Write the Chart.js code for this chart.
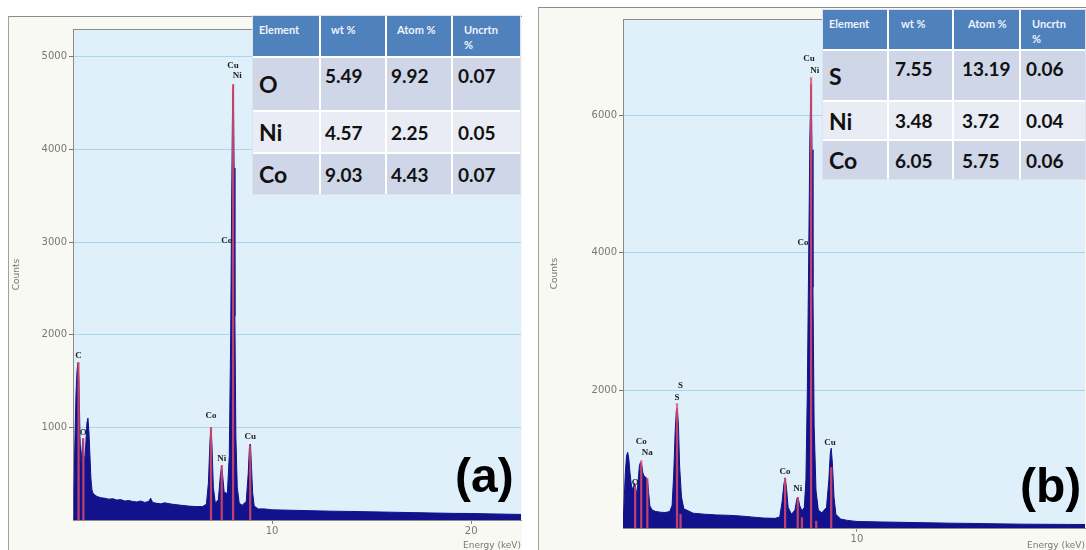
<!DOCTYPE html>
<html>
<head>
<meta charset="utf-8">
<script src="https://cdn.jsdelivr.net/npm/chart.js@4.4.0/dist/chart.umd.min.js"></script>
<style>
body { margin: 0; width: 1086px; height: 550px; background: #fff; position: relative; overflow: hidden; font-family: Lato, sans-serif; }
.frame { position: absolute; background: #f9f9f3; border-left: 1px solid #a0a0a0; border-top: 1px solid #8c8c8c; box-sizing: border-box; }
.frame canvas { position: absolute; left: 0; top: 0; }
.tbl { position: absolute; display: grid; gap: 2px; background: #fff; border: 1px solid #dde3ee; }
.tbl div { display: flex; align-items: center; box-sizing: border-box; font-weight: 700; color: #111; }
.tbl .h { background: #4f81bd; color: #eef3fa; font-size: 11px; align-items: flex-start; padding-top: 6px; font-weight: 700; line-height: 15px; }
.tbl .r1 { background: #cfd6e8; }
.tbl .r2 { background: #e9ecf4; }
.tbl .el { font-size: 23px; padding-left: 6px; }
.tbl .v { font-size: 19px; padding-left: 5px; }
.tbl .top { align-items: flex-start; padding-top: 6px; }
.tag { position: absolute; font: bold 48px "Liberation Sans", Arial, sans-serif; line-height: 48px; color: #000; }
</style>
</head>
<body>

<div class="frame" style="left:8px;top:16px;width:514px;height:534px"><canvas id="chartA" width="514" height="534"></canvas></div>
<div class="frame" style="left:538px;top:7px;width:548px;height:543px"><canvas id="chartB" width="548" height="543"></canvas></div>

<div class="tbl" id="tblA" style="left:252px;top:15px;grid-template-columns:66px 64px 64px 67px;grid-template-rows:40px 52px 40px 40px"></div>
<div class="tbl" id="tblB" style="left:822px;top:9px;grid-template-columns:64px 63px 65px 64px;grid-template-rows:39px 49px 37px 38px"></div>

<div class="tag" style="left:455px;top:452px">(a)</div>
<div class="tag" style="left:1020px;top:462px">(b)</div>

<script>
// ---- spectrum (a) ----
const aEnergy = [0, 0.05, 0.1, 0.15, 0.2, 0.25, 0.3, 0.35, 0.4, 0.45, 0.5, 0.55, 0.6, 0.65, 0.7, 0.75, 0.8, 0.85, 0.9, 0.95,
  1.0, 1.1, 1.2, 1.4, 1.6, 1.8, 2.0, 2.2, 2.4, 2.6, 2.8, 3.0, 3.2, 3.4, 3.6, 3.8, 3.9, 4.0, 4.2, 4.4, 4.6, 5.0, 5.4, 5.8, 6.2, 6.5,
  6.7, 6.8, 6.88, 6.93, 6.98, 7.05, 7.15, 7.3, 7.4, 7.47, 7.53, 7.6, 7.65, 7.75, 7.85, 7.92, 7.97, 8.02, 8.05, 8.09, 8.13, 8.18,
  8.25, 8.35, 8.5, 8.7, 8.8, 8.86, 8.9, 8.95, 9.02, 9.1, 9.3, 9.6, 10, 11, 12, 13, 14, 15, 16, 17, 18, 19, 20, 21, 22, 22.5];
const aCounts = [0, 300, 900, 1350, 1600, 1700, 1500, 900, 600, 750, 880, 700, 650, 850, 1050, 1100, 950, 700, 450, 330,
  290, 270, 255, 240, 235, 225, 230, 215, 220, 205, 210, 200, 195, 205, 190, 200, 235, 190, 180, 175, 185, 170, 160, 150, 145, 145,
  170, 400, 850, 1000, 800, 350, 180, 220, 480, 590, 450, 280, 300, 280, 700, 2000, 3500, 4600, 4700, 3800, 2200, 900,
  350, 180, 160, 200, 500, 780, 820, 650, 300, 150, 120, 120, 110, 105, 100, 95, 92, 88, 84, 80, 76, 72, 70, 66, 62, 60];
const aMarkEnergy = [0.28, 0.52, 6.93, 7.47, 8.04, 8.9];
const aMarkCounts = [1700, 880, 1000, 590, 4700, 800];
const aLabelText = ['C', 'O', 'Co', 'Ni', 'Co', 'Cu', 'Ni', 'Cu'];
const aLabelEnergy = [0.28, 0.52, 6.93, 7.47, 7.72, 8.04, 8.25, 8.9];
const aLabelCounts = [1730, 895, 1080, 615, 2970, 4855, 4750, 850];
const aYTicks = [1000, 2000, 3000, 4000, 5000];
const aXTicks = [10, 20];

// ---- spectrum (b) ----
const bEnergy = [0, 0.05, 0.1, 0.15, 0.2, 0.25, 0.3, 0.35, 0.4, 0.45, 0.5, 0.55, 0.6, 0.65, 0.7, 0.75, 0.8, 0.85, 0.9, 0.95,
  1.0, 1.05, 1.1, 1.15, 1.25, 1.4, 1.6, 1.8, 2.0, 2.1, 2.17, 2.23, 2.28, 2.32, 2.37, 2.42, 2.5, 2.6, 3.0, 3.5, 4.0, 4.5, 5.0, 5.5,
  6.0, 6.5, 6.7, 6.8, 6.88, 6.93, 6.99, 7.06, 7.2, 7.35, 7.43, 7.48, 7.55, 7.65, 7.75, 7.82, 7.88, 7.94, 7.99, 8.04, 8.08, 8.12,
  8.17, 8.25, 8.35, 8.5, 8.7, 8.8, 8.86, 8.9, 8.95, 9.02, 9.1, 9.3, 9.6, 10, 11, 12, 13, 14, 15, 16, 17, 18, 19, 20];
const bCounts = [0, 400, 800, 1050, 1100, 1000, 800, 650, 560, 600, 650, 560, 500, 700, 900, 960, 920, 800, 760, 740,
  730, 700, 500, 320, 260, 240, 230, 225, 240, 330, 800, 1400, 1700, 1740, 1500, 900, 450, 280, 215, 200, 190, 185, 175, 160,
  145, 140, 160, 380, 640, 730, 580, 300, 200, 260, 420, 450, 330, 250, 300, 700, 2000, 4000, 5700, 6450, 5500, 3500,
  1500, 550, 260, 220, 300, 700, 1080, 1160, 950, 450, 200, 130, 110, 95, 88, 82, 76, 70, 66, 60, 56, 54, 52, 50];
const bMarkEnergy = [0.52, 0.78, 1.04, 2.31, 2.46, 6.93, 7.47, 7.65, 8.04, 8.26, 8.9];
const bMarkCounts = [600, 980, 720, 1810, 200, 720, 445, 150, 6550, 100, 880];
const bLabelText = ['O', 'Co', 'Na', 'S', 'S', 'Co', 'Ni', 'Co', 'Cu', 'Ni', 'Cu'];
const bLabelEnergy = [0.52, 0.78, 1.04, 2.31, 2.46, 6.93, 7.47, 7.7, 7.95, 8.2, 8.85];
const bLabelCounts = [600, 1185, 1025, 1825, 2000, 750, 500, 4080, 6756, 6580, 1170];
const bYTicks = [2000, 4000, 6000];
const bXTicks = [10];

// ---- tables ----
const tblHeader = ['Element', 'wt %', 'Atom %', 'Uncrtn<br>%'];
const aElements = ['O', 'Ni', 'Co'];
const aWt = ['5.49', '4.57', '9.03'];
const aAtom = ['9.92', '2.25', '4.43'];
const aUnc = ['0.07', '0.05', '0.07'];
const bElements = ['S', 'Ni', 'Co'];
const bWt = ['7.55', '3.48', '6.05'];
const bAtom = ['13.19', '3.72', '5.75'];
const bUnc = ['0.06', '0.04', '0.06'];

function fillTable(id, els, wt, atom, unc, pads) {
    let t = document.getElementById(id);
    let html = '';
    tblHeader.forEach((h, i) => {
        html += '<div class="h" style="padding-left:' + (i == 0 ? 6 : pads[i] + 6) + 'px">' + h + '</div>';
    });
    els.forEach((e, r) => {
        let cls = r == 1 ? 'r2' : 'r1';
        let top = r == 0 ? ' top' : '';
        html += '<div class="' + cls + ' el">' + e + '</div>';
        html += '<div class="' + cls + ' v' + top + '" style="padding-left:' + pads[1] + 'px">' + wt[r] + '</div>';
        html += '<div class="' + cls + ' v' + top + '" style="padding-left:' + pads[2] + 'px">' + atom[r] + '</div>';
        html += '<div class="' + cls + ' v' + top + '" style="padding-left:' + pads[3] + 'px">' + unc[r] + '</div>';
    });
    t.innerHTML = html;
}
fillTable('tblA', aElements, aWt, aAtom, aUnc, [6, 4, 4, 5]);
fillTable('tblB', bElements, bWt, bAtom, bUnc, [6, 6, 8, 5]);

// ---- chart plugins ----
const plotBg = {
    id: 'plotBg',
    beforeDraw: function(chart) {
        let a = chart.chartArea, ctx = chart.ctx;
        ctx.save();
        ctx.fillStyle = '#e0f0fa';
        ctx.fillRect(a.left, a.top, a.right - a.left, a.bottom - a.top);
        ctx.strokeStyle = '#8a8a8a';
        ctx.lineWidth = 1;
        ctx.beginPath();
        ctx.moveTo(a.left, a.top + 0.5);
        ctx.lineTo(a.right, a.top + 0.5);
        ctx.stroke();
        ctx.restore();
    }
};

const peakLabels = {
    id: 'peakLabels',
    afterDatasetsDraw: function(chart, args, opts) {
        let ctx = chart.ctx, xs = chart.scales.x, ys = chart.scales.y;
        ctx.save();
        ctx.font = 'bold 9px "Liberation Serif", serif';
        ctx.fillStyle = '#222';
        ctx.textAlign = 'center';
        ctx.textBaseline = 'bottom';
        opts.text.forEach(function(t, i) {
            ctx.fillText(t, xs.getPixelForValue(opts.energy[i]), ys.getPixelForValue(opts.counts[i]));
        });
        ctx.restore();
    }
};

function makeChart(id, energy, counts, markE, markC, labT, labE, labC, xMax, yMax, xTicks, yTicks, yw, xh, padTop, titlePad) {
    let ctx = document.getElementById(id).getContext('2d');
    return new Chart(ctx, {
        type: 'line',
        data: {
            datasets: [{
                type: 'bar',
                data: markE.map((e, i) => ({ x: e, y: markC[i] })),
                backgroundColor: 'rgba(232, 78, 100, 0.8)',
                barThickness: 1.6,
                grouped: false,
                order: 0
            }, {
                type: 'line',
                data: energy.map((e, i) => ({ x: e, y: counts[i] })),
                borderColor: '#12128c',
                backgroundColor: '#12128c',
                borderWidth: 1,
                pointRadius: 0,
                tension: 0,
                fill: 'origin',
                order: 1
            }]
        },
        options: {
            responsive: false,
            animation: false,
            layout: { padding: { top: padTop, right: 2, left: 0, bottom: 0 } },
            plugins: {
                legend: { display: false },
                tooltip: { enabled: false },
                peakLabels: { text: labT, energy: labE, counts: labC }
            },
            scales: {
                x: {
                    type: 'linear',
                    min: 0,
                    max: xMax,
                    offset: false,
                    afterBuildTicks: function(s) { s.ticks = xTicks.map(v => ({ value: v })); },
                    afterFit: function(s) { s.height = xh; },
                    border: { color: '#8a8a8a' },
                    grid: { offset: false, drawOnChartArea: false, tickLength: 4, color: '#8a8a8a' },
                    ticks: {
                        maxRotation: 0,
                        color: '#777',
                        font: { size: 10, family: 'DejaVu Sans' },
                        padding: 1,
                        callback: v => String(v)
                    },
                    title: {
                        display: true,
                        text: 'Energy (keV)',
                        align: 'end',
                        color: '#777',
                        font: { size: 9, family: 'DejaVu Sans' },
                        padding: { top: 0, bottom: 0 }
                    }
                },
                y: {
                    min: 0,
                    max: yMax,
                    afterBuildTicks: function(s) { s.ticks = yTicks.map(v => ({ value: v })); },
                    afterFit: function(s) { s.width = yw; },
                    border: { color: '#8a8a8a' },
                    grid: { color: '#a8d6ee', tickColor: '#777', tickLength: 4 },
                    ticks: {
                        color: '#777',
                        font: { size: 10, family: 'DejaVu Sans' },
                        padding: 2,
                        callback: v => String(v)
                    },
                    title: {
                        display: true,
                        text: 'Counts',
                        color: '#777',
                        font: { size: 9, family: 'DejaVu Sans' },
                        padding: { top: titlePad, bottom: 0 }
                    }
                }
            }
        },
        plugins: [plotBg, peakLabels]
    });
}

makeChart('chartA', aEnergy, aCounts, aMarkEnergy, aMarkCounts, aLabelText, aLabelEnergy, aLabelCounts,
    22.5, 5300, aXTicks, aYTicks, 64, 31, 12, 2);
makeChart('chartB', bEnergy, bCounts, bMarkEnergy, bMarkCounts, bLabelText, bLabelEnergy, bLabelCounts,
    19.75, 7400, bXTicks, bYTicks, 84, 23, 11, 10);
</script>
</body>
</html>
